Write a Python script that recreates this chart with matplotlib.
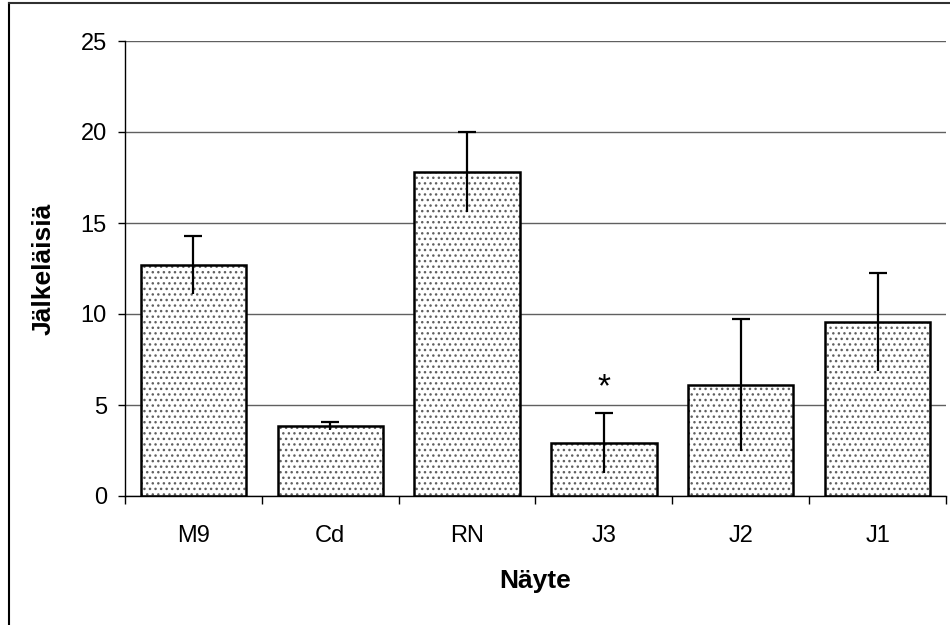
import matplotlib
matplotlib.use("Agg")
import matplotlib.pyplot as plt
import numpy as np
from matplotlib.lines import Line2D

plt.rcParams['font.family'] = ['Liberation Sans', 'DejaVu Sans']

# offspring counts per sample with error bars
samples = ['M9', 'Cd', 'RN', 'J3', 'J2', 'J1']
means = [12.7, 3.85, 17.8, 2.92, 6.1, 9.55]
errors = [1.6, 0.2, 2.2, 1.63, 3.6, 2.7]
marked = ['J3']

fig = plt.figure(figsize=(9.5, 6.25), dpi=100)
ax = fig.add_axes([125/950, 1 - 496/625, 821/950, 455/625])

x = np.arange(len(samples))
w = 1 / 1.3
means = np.array(means)
errors = np.array(errors)

# dotted fill first, then the black outline on top
ax.bar(x, means, width=w, color='white', edgecolor='#606060', hatch='...',
       linewidth=0, zorder=2)
ax.bar(x, means, width=w, fill=False, edgecolor='black', linewidth=1.8, zorder=3)

# error bars: full line, cap only on the upper end
ax.vlines(x, means - errors, means + errors, color='black', linewidth=1.6, zorder=4)
ax.plot(x, means + errors, linestyle='none', marker='_', markersize=13,
        markeredgewidth=1.6, color='black', zorder=4)

for s in marked:
    i = samples.index(s)
    ax.text(i, means[i] + errors[i] + 0.95, '*', ha='center', va='baseline', fontsize=24)

ax.set_xlim(-0.5, len(samples) - 0.5)
ax.set_ylim(0, 25)
ax.set_yticks(np.arange(0, 26, 5))
ax.yaxis.grid(True, color='#606060', linewidth=1)
ax.set_axisbelow(True)

ax.set_xticks(x)
ax.set_xticklabels(samples)
ax.set_xticks(np.arange(-0.5, len(samples)), minor=True)
ax.tick_params(axis='x', which='major', length=0, pad=21, labelsize=17)
ax.tick_params(axis='x', which='minor', length=6, width=1, direction='out')
ax.tick_params(axis='y', length=5, width=1, pad=8, labelsize=17)

for side in ['top', 'right']:
    ax.spines[side].set_visible(False)
for side in ['left', 'bottom']:
    ax.spines[side].set_color('black')
    ax.spines[side].set_linewidth(1)

ax.set_xlabel('Näyte', fontsize=19, fontweight='bold', labelpad=16)
ax.set_ylabel('Jälkeläisiä', fontsize=19, fontweight='bold', labelpad=18)

# outer chart frame
fig.add_artist(Line2D([8.5/950, 8.5/950], [0, 1 - 3/625], color='black', linewidth=1.5))
fig.add_artist(Line2D([8.5/950, 1], [1 - 3/625, 1 - 3/625], color='#303030', linewidth=1.5))

fig.savefig('out.png', dpi=100)
